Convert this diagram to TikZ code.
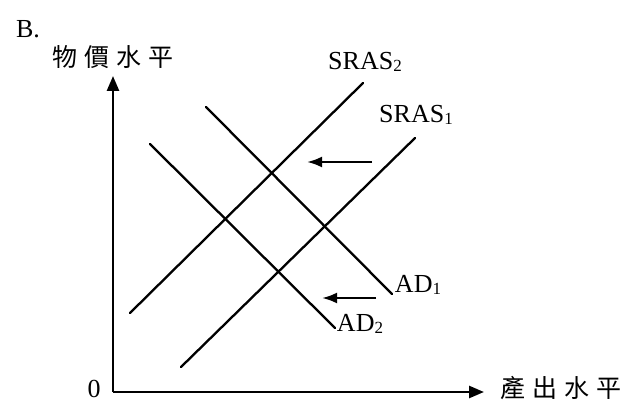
\documentclass[tikz,border=0pt]{standalone}
\usepackage{fontspec}
\setmainfont{Liberation Serif}
\newfontfamily\cjk{Noto Sans CJK TC}
\usetikzlibrary{arrows.meta}
\newcommand\sbs[1]{\raisebox{-2pt}{\fontsize{17}{17}\selectfont #1}}
\begin{document}
\begin{tikzpicture}[x=1pt,y=-1pt,
  curve/.style={line width=2.3pt, line cap=round},
  axisline/.style={line width=2.6pt, -{Triangle[length=15pt,width=12pt]}},
  shiftarrow/.style={line width=2.5pt, -{Latex[length=15pt,width=11pt]}},
  lab/.style={font=\fontsize{26}{26}\selectfont, inner sep=0pt},
  cjklab/.style={font=\cjk\fontsize{25}{25}\selectfont, inner sep=0pt}]
\useasboundingbox (0,0) rectangle (623,403);
% axes
\coordinate (O) at (113,392);
\coordinate (ytop) at (113,76);
\coordinate (xend) at (484,392);
\draw[axisline] (O) -- (ytop);
\draw[axisline] (O) -- (xend);
% labels
\node[lab] (B) at (28,29) {B.};
\node[cjklab] (ylab) at (113,57) {物\hspace{7pt}價\hspace{7pt}水\hspace{7pt}平};
\node[cjklab] (xlab) at (561,388) {產\hspace{7pt}出\hspace{7pt}水\hspace{7pt}平};
\node[lab] (zero) at (94,389) {0};
% curves
\coordinate (s2a) at (130,313); \coordinate (s2b) at (363,83);
\coordinate (s1a) at (181,367); \coordinate (s1b) at (415,138);
\coordinate (d1a) at (206,107); \coordinate (d1b) at (392,294);
\coordinate (d2a) at (150,144); \coordinate (d2b) at (335,328);
\draw[curve] (s2a) -- (s2b);
\draw[curve] (s1a) -- (s1b);
\draw[curve] (d1a) -- (d1b);
\draw[curve] (d2a) -- (d2b);
\node[lab] (SRAS2) at (365,62) {SRAS\sbs{2}};
\node[lab] (SRAS1) at (416,115) {SRAS\sbs{1}};
\node[lab] (AD1) at (418,285) {AD\sbs{1}};
\node[lab] (AD2) at (360,324) {AD\sbs{2}};
% shift arrows
\coordinate (a1s) at (372,162); \coordinate (a1e) at (307,162);
\coordinate (a2s) at (376,298); \coordinate (a2e) at (322,298);
\draw[shiftarrow] (a1s) -- (a1e);
\draw[shiftarrow] (a2s) -- (a2e);
\end{tikzpicture}
\end{document}
